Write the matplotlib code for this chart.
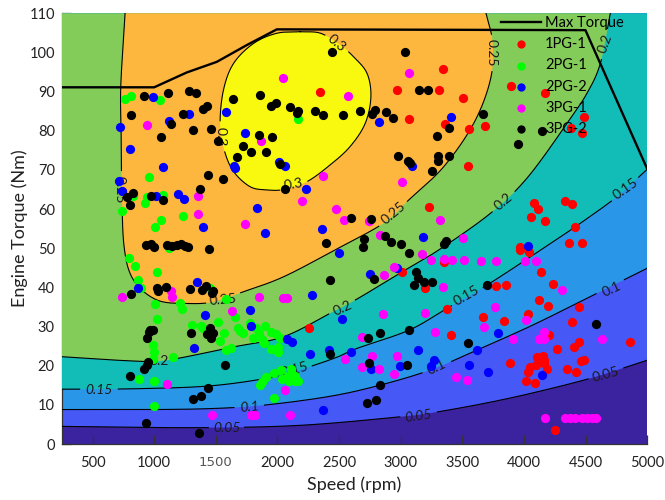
import numpy as np
import matplotlib
matplotlib.use('Agg')
import matplotlib.pyplot as plt

plt.rcParams['font.family'] = ['Lato', 'DejaVu Sans']

# scatter points (speed, torque)
pg1_1 = [(2344,89.8),(3340,95.8),(2972,90.3),(3313,90.4),(3508,88.4),(3069,83.1),(3359,81.7),(3551,80.4),
         (3686,81.3),(3546,71),(3226,60.6),(4084,61.5),(4117,59.9),(4054,58),(4330,62),(4390,61.2),(4168,56.9),
         (4414,55.5),(4368,51.4),(4474,51.4),(3970,50.2),(4382,80.7),(4487,83.6),(4474,79.4),(3895,91.5),
         (4173,89.6),(2252,29.5),(3348,46.4),(3970,49.5),(4043,49),(3013,44),(3194,39.8),(3776,40.3),(3854,40.6),
         (4141,44),(4238,40.9),(4125,36.7),(4192,35.3),(4444,35.1),(3372,34.6),(4033,33.2),(3670,32.4),(3835,31.5),
         (4387,31.1),(3408,27.9),(4206,27.8),(4447,26.1),(4406,24.9),(4268,24.3),(4861,26),(4106,22.1),(4152,22.6),
         (4160,21.5),(4133,21),(4100,20.2),(4160,20.6),(4046,19.6),(4030,18.3),(4190,19.1),(3889,20.6),(4352,19.1),
         (4422,18.5),(4463,21.2),(4485,21.4),(4016,16.2),(4092,15.6),(4249,3.7)]
pg2_1 = [(764,88.2),(813,89),(1048,87.9),(2168,82.9),(959,68.3),(940,63.2),(832,63.3),(1070,63.6),(924,61.6),
         (740,59.6),(1059,57.2),(1008,55.3),(1230,58.3),(1124,50),(797,47.5),(845,45.5),(867,41.9),(897,39.8),
         (1021,44),(1008,35.8),(1021,31.8),(991,25.4),(1002,23.6),(991,21.7),(1154,22.1),(878,16.5),(1000,16.1),
         (1002,9.6),(1213,35.9),(1224,34.4),(1305,30.5),(1376,30.1),(1395,29.5),(1454,39.8),(1579,37),(1654,32.5),
         (1514,31.2),(1565,28.3),(1533,26.4),(1581,24.1),(1627,24.6),(1676,29.7),(1698,28.9),(1719,28.3),(1779,30.8),
         (1828,29.7),(1847,28.3),(1801,27),(1874,26.7),(1890,25.7),(1901,30.1),(1947,28.7),(1987,28.1),(2017,27.1),
         (1944,24.2),(2001,24.7),(2001,23.6),(1968,18.2),(2028,18.9),(2106,19.1),(1903,17),(1871,15.9),(1860,15.1),
         (2039,16.5),(2082,17.4),(2093,16.2),(2139,17.4),(2142,16.1),(2163,16),(1968,11.7)]
pg2_2 = [(991,88.5),(1284,84.2),(1119,82.6),(721,81),(802,75.3),(1075,70.7),(715,67.2),(737,64.5),(1013,63.3),
         (1192,63.8),(1243,62.5),(1833,60.2),(1584,84.9),(1738,79.5),(1644,71.1),(1657,70.4),(2009,71.9),(2058,71.1),
         (2231,65.1),(1400,55.4),(1898,53.9),(2361,54.8),(3405,83.6),(2820,82.2),(3094,71.1),(3183,52.9),(4030,50.6),
         (872,39.8),(1349,41.4),(1414,32.9),(1322,24.5),(1776,34.2),(1784,30.1),(2079,26.9),(2117,26),(2280,38.1),
         (2266,22.9),(2418,23.9),(2369,8.6),(2501,48.8),(2525,31.8),(2753,43.4),(2969,44.9),(2596,23.5),(2758,19.1),
         (2991,19.8),(3137,24),(3270,21.5),(3245,19.9),(3556,20.3),(3621,24.1),(3792,28.3),(3711,18.5),(4146,17.5)]
pg3_1 = [(940,81.4),(2041,93.6),(1868,77.4),(2369,68.4),(1354,63.3),(1354,58.8),(2196,62),(1738,56.1),(2477,59.9),
         (2574,88.9),(3067,94.8),(3007,67),(2536,57.2),(2739,57),(3318,57.3),(2828,53.3),(3508,52.6),(740,37.5),
         (1138,39.1),(1148,37.5),(1852,37.5),(2044,37.3),(2079,37.3),(1635,34),(1105,15.2),(1468,7.5),(1782,7.4),
         (1817,7.4),(2101,7.3),(2063,13.9),(3172,48.4),(3245,47),(3348,47.3),(3416,47),(3510,46.9),(3651,46.8),
         (3776,46.8),(4011,46.7),(4100,46.7),(2942,45.3),(2861,43.2),(3340,40),(2856,33.1),(3199,33.5),(3275,28.5),
         (2682,27.2),(2550,21.8),(2766,22.4),(2688,19.6),(2826,19.2),(2972,22.6),(2942,18),(3448,17.2),(3540,16.3),
         (3762,34.9),(3678,29.8),(4014,31.7),(3908,26.8),(4160,28.7),(4119,26.7),(4160,26.7),(4309,39.3),(4633,26.9),
         (4168,6.6),(4330,6.6),(4371,6.6),(4411,6.6),(4471,6.6),(4512,6.6),(4552,6.6),(4587,6.6)]
pg3_2 = [(916,88.9),(1113,89.6),(1281,90.2),(1338,89.6),(816,84.1),(1230,84.4),(1395,85.6),(1432,86.2),(1138,81.7),
         (1313,80.2),(1462,80.5),(1059,78.5),(1514,77.4),(1435,68.8),(1562,67.7),(1373,65.2),(826,64),(778,63.1),
         (805,61),(972,63.3),(1075,62.2),(1638,88.1),(1857,89.1),(1949,86.2),(1987,87),(2101,86),(2163,85.1),
         (2158,84.6),(2307,85.1),(2372,84.1),(2439,100.2),(1852,78.9),(1957,78.3),(1722,76.2),(1787,74.7),(1903,74.5),
         (1673,73.2),(2017,71.4),(2063,65.1),(2393,51.3),(935,50.8),(972,51),(1000,50.3),(1108,50.8),(1148,50.6),
         (1184,50.8),(1219,51),(1246,50.6),(1278,50.3),(1443,49.8),(3037,100.2),(3145,90.3),(3224,90.3),(2531,84.1),
         (2669,85),(2788,85.4),(2766,84.2),(2883,84.9),(2937,83.3),(3391,80.7),(3297,78.7),(3670,84.2),(4144,79.9),
         (3951,76.7),(2977,73.6),(3056,72.2),(3072,71.8),(3302,73.6),(3305,72.3),(3394,73.6),(3251,69.6),(2596,57.8),
         (2758,57.4),(2869,53.2),(2920,51.5),(3002,51.2),(3367,51.9),(3348,51),(2699,52.4),(2693,50.2),(2428,42),
         (810,38.4),(1021,39.9),(1035,39.2),(1092,40.1),(1292,39.5),(1389,39.3),(1422,40.3),(1470,38.6),(1476,39),
         (967,29.1),(989,29),(956,28.7),(940,27),(1297,28.3),(1454,29.7),(1427,28),(1476,28.3),(1460,27),(948,21),
         (940,20.2),(921,19.2),(805,17.3),(1576,20.3),(2428,23.1),(1438,14.4),(1378,12.3),(1316,11.5),(932,5.3),
         (1365,2.7),(3069,48.7),(2785,42.1),(3121,44),(3142,42.5),(3110,40.6),(3191,41.3),(3256,41.4),(3700,40.6),
         (3069,29.1),(2828,28.3),(2734,27),(3543,25.8),(2739,20.6),(3048,20.2),(2828,15),(2796,11.2),(2728,10.4),
         (4582,30.7)]

max_torque = [(250,91.1),(1000,91.1),(1265,94.9),(1508,97.6),(1752,101.9),(1995,105.9),(4498,105.7),(5000,70.2)]

# efficiency contour lines
eff_005 = [(250,4.5),(1000,4.2),(1500,4.2),(2000,4.5),(2430,5.3),(3010,7),(3240,7.9),(3650,10.2),(4050,12.9),(4540,16.8),(5000,21.4)]
eff_010 = [(250,8.8),(1000,8.8),(1508,9.1),(1914,10),(2430,12.2),(2828,15),(3240,18.9),(3619,24),(4052,30.1),(4458,36.4),(5000,44.9)]
eff_015 = [(250,14),(832,14.1),(1438,14.8),(1914,16.8),(2185,19),(2469,22),(2644,24.4),(3069,29.1),(3372,34.6),(3700,40.6),(4138,49.6),(4458,56.4),(4755,63.2),(5000,70.2)]
eff_020 = [(250,22.3),(832,21.2),(1103,21.4),(1644,24.8),(2049,27.4),(2428,33.4),(2644,37),(3013,44),(3310,49.6),(3727,58.9),(4024,67.9),(4349,81.9),(4511,89.6),(4620,97.3),(4700,110)]
eff_025 = [(764,110),(729,91.3),(732,79.3),(737,65.7),(756,50.4),(832,41.9),(1021,36.8),(1265,35.9),(1481,36.3),(1725,38.9),(2049,42.7),(2469,49.6),(2861,56.4),(3064,62.3),(3348,70.8),(3592,81.9),(3727,93),(3746,102.3),(3692,110)]
eff_030 = [(2185,105.3),(1995,104.9),(1806,102.3),(1644,97.2),(1562,90.4),(1535,81.9),(1568,75.1),(1644,69.6),(1779,65.7),(1914,64.9),(2049,65),(2239,67),(2428,71.3),(2590,76),(2712,81.9),(2758,88.7),(2726,94.7),(2617,98.9),(2509,101.9),(2350,104.9),(2185,105.3)]

contour_labels = [('0.3',2482,102.3,-40,False),('0.3',1541,78.5,-90,False),('0.3',2131,66.3,10,False),
                  ('0.25',3735,99.8,-90,False),('0.25',2942,58.9,40,False),('0.25',1562,36.8,5,False),('0.25',723,64.9,-90,False),
                  ('0.2',4660,102.3,70,False),('0.2',3835,61.9,40,False),('0.2',2531,34.7,25,False),('0.2',1043,21.2,0,False),
                  ('0.15',4823,65.1,35,False),('0.15',3532,37.9,30,False),('0.15',2145,18.9,15,False),('0.15',553,13.8,0,True),
                  ('0.1',4709,39.5,25,False),('0.1',3294,19.7,25,False),('0.1',1771,9.5,5,True),
                  ('0.05',4666,17.8,15,False),('0.05',3145,7.2,8,True),('0.05',1590,4.2,0,True)]

series_names = ['1PG-1', '2PG-1', '2PG-2', '3PG-1', '3PG-2']
series_colors = ['#ff0000', '#00ff00', '#0000ff', '#ff00ff', '#000000']
band_colors = ['#4658f5', '#2a96e8', '#12bdb8', '#84cc5a', '#fdb73e', '#f9f910']


def smooth(pts, n=24):
    # catmull-rom through the read points, just so the lines are not angular
    p = np.array(pts, dtype=float)
    p = np.vstack([2 * p[0] - p[1], p, 2 * p[-1] - p[-2]])
    out = []
    for i in range(1, len(p) - 2):
        t = np.linspace(0, 1, n, endpoint=False)[:, None]
        out.append(0.5 * (2 * p[i] + (p[i + 1] - p[i - 1]) * t
                          + (2 * p[i - 1] - 5 * p[i] + 4 * p[i + 1] - p[i + 2]) * t ** 2
                          + (3 * p[i] - p[i - 1] - 3 * p[i + 1] + p[i + 2]) * t ** 3))
    out.append(p[-2][None, :])
    return np.vstack(out)


fig = plt.figure(figsize=(6.65, 5.0), dpi=100)
ax = fig.add_axes([0.0928, 0.112, 0.8806, 0.8614])
ax.set_xlim(250, 5000)
ax.set_ylim(0, 110)
ax.set_facecolor('#3b239f')

curves = [smooth(c) for c in [eff_005, eff_010, eff_015, eff_020, eff_025, eff_030]]

# filled bands, lowest first
top_corners = [(5000, 110), (250, 110)]
for i, c in enumerate(curves):
    if i <= 2:
        poly = np.vstack([c, top_corners])
    elif i == 3:
        poly = np.vstack([c, [(250, 110)]])
    else:
        poly = c
    ax.fill(poly[:, 0], poly[:, 1], color=band_colors[i], lw=0, zorder=i + 1)

# contour lines with a gap where the label sits
px_x = 616.0 / 4750
px_y = 430.7 / 110
for i, c in enumerate(curves):
    keep = c.copy()
    level = ['0.05', '0.1', '0.15', '0.2', '0.25', '0.3'][i]
    for txt, lx, ly, rot, it in contour_labels:
        if txt == level:
            d = np.hypot((c[:, 0] - lx) * px_x, (c[:, 1] - ly) * px_y)
            keep[d < 5.5 + 3.2 * len(txt), 0] = np.nan
    ax.plot(keep[:, 0], keep[:, 1], color='black', lw=0.8, zorder=8)

for txt, lx, ly, rot, it in contour_labels:
    ax.text(lx, ly, txt, rotation=rot, ha='center', va='center', fontsize=10, color='#1a1a1a',
            style='italic' if it else 'normal', rotation_mode='anchor', zorder=9)

mt = np.array(max_torque)
line, = ax.plot(mt[:, 0], mt[:, 1], color='black', lw=1.7, zorder=10, label='Max Torque')

for pts, name, col in zip([pg1_1, pg2_1, pg2_2, pg3_1, pg3_2], series_names, series_colors):
    a = np.array(pts)
    ax.scatter(a[:, 0], a[:, 1], s=44, color=col, lw=0, marker='o', zorder=11, label=name)

leg = ax.legend(loc='upper left', bbox_to_anchor=(0.745, 1.001), frameon=False, fontsize=10.5,
                handlelength=2.76, handletextpad=0.28, labelspacing=0.5, borderpad=0.2, borderaxespad=0,
                scatterpoints=1, markerscale=0.9)
leg.set_zorder(20)

ax.set_xticks(np.arange(500, 5001, 500))
ax.set_yticks(np.arange(0, 111, 10))
ax.tick_params(direction='in', length=6.5, width=0.9, color='#333333', labelsize=10.5, labelcolor='#222222', pad=8.5)
ax.tick_params(axis='y', pad=5)
for s in ['top', 'right']:
    ax.spines[s].set_visible(False)
for s in ['left', 'bottom']:
    ax.spines[s].set_color('#333333')
    ax.spines[s].set_linewidth(0.9)

# the 1500 label looks different in the original
lab = ax.get_xticklabels()[2]
lab.set_family('DejaVu Sans')
lab.set_color('#555555')
lab.set_fontsize(9.5)
lab.set_text('1500')

ax.set_xlabel('Speed (rpm)', fontsize=13, color='#222222', labelpad=5)
ax.set_ylabel('Engine Torque (Nm)', fontsize=13, color='#222222', labelpad=1)

fig.savefig('out.png', dpi=100)
